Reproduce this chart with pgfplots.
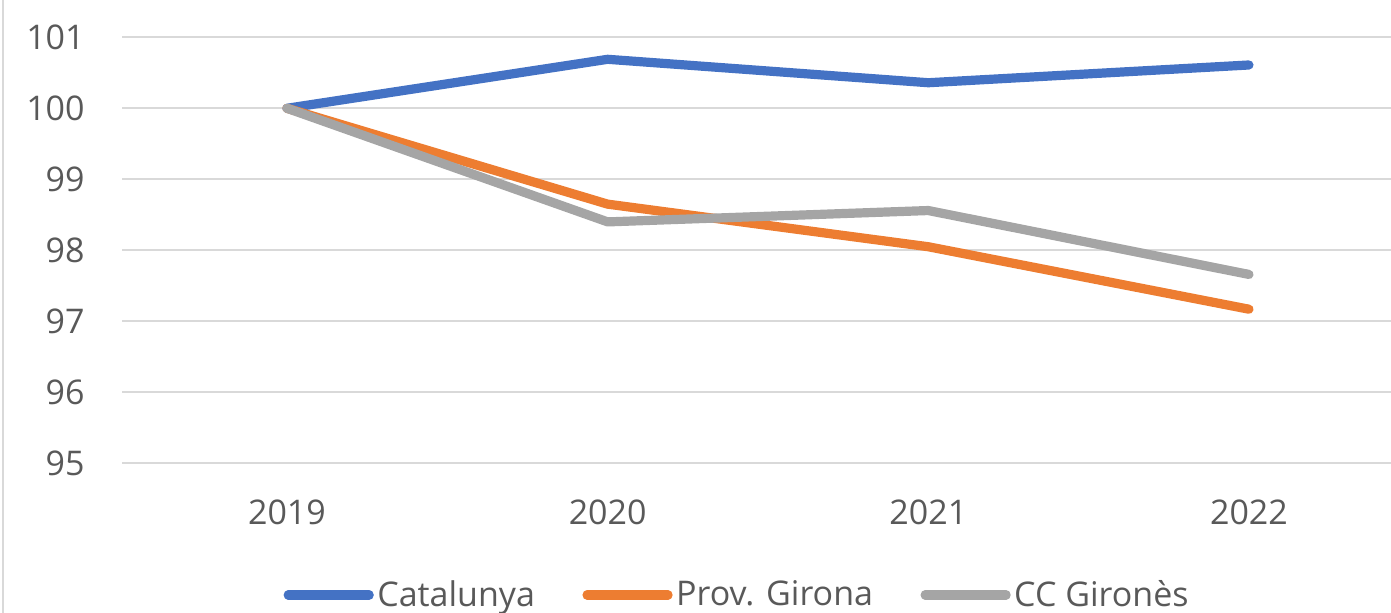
\documentclass[border=0pt]{standalone}
\usepackage{fontspec}
\setmainfont{Open Sans}
\usepackage{pgfplots}
\pgfplotsset{compat=1.18}
\definecolor{cBlue}{HTML}{4472C4}
\definecolor{cOrange}{HTML}{ED7D31}
\definecolor{cGray}{HTML}{A5A5A5}
\definecolor{cGrid}{HTML}{D9D9D9}
\definecolor{cText}{HTML}{595959}
\begin{document}
\begin{tikzpicture}
\useasboundingbox (0,0) rectangle (695.5pt,306.5pt);
\draw[cGrid, line width=1pt] (1.5pt,0) -- (1.5pt,306.5pt);
\begin{axis}[
  at={(61pt,74.85pt)}, anchor=south west,
  scale only axis, width=634.5pt, height=213pt,
  xmin=-0.5145, xmax=3.443, ymin=95, ymax=101,
  xtick={0,1,2,3}, xticklabels={2019,2020,2021,2022},
  ytick={95,96,97,98,99,100,101},
  axis line style={draw=none},
  major tick length=0pt,
  tick style={draw=none},
  ymajorgrids, grid style={cGrid, line width=1.1pt},
  clip=false,
  font=\fontsize{17}{20}\selectfont,
  tick label style={text=cText, inner sep=0pt},
  /pgf/number format/assume math mode=true,
  xticklabel style={anchor=center, yshift=-24.3pt},
  yticklabel style={anchor=east, xshift=-18.5pt},
  legend columns=3,
  legend style={at={(0.4839,-0.309)}, anchor=center, draw=none, fill=none,
    inner sep=0pt, text=cText, font=\fontsize{17}{20}\selectfont,
    nodes={inner sep=0pt},
    /tikz/every odd column/.append style={column sep=1.75pt},
    /tikz/every even column/.append style={column sep=23.75pt}},
  legend image code/.code={\draw[#1, line cap=round] (0pt,0pt) -- (40.5pt,0pt);},
  every axis plot/.append style={line width=4.6pt, line cap=round, line join=round},
]
\addplot[cBlue] coordinates {(0,100) (1,100.69) (2,100.36) (3,100.61)};
\addlegendentry{Catalunya}
\addplot[cOrange] coordinates {(0,100) (1,98.65) (2,98.05) (3,97.17)};
\addlegendentry{Prov. Girona}
\addplot[cGray] coordinates {(0,100) (1,98.40) (2,98.56) (3,97.66)};
\addlegendentry{CC Gironès}
\end{axis}
\end{tikzpicture}
\end{document}
